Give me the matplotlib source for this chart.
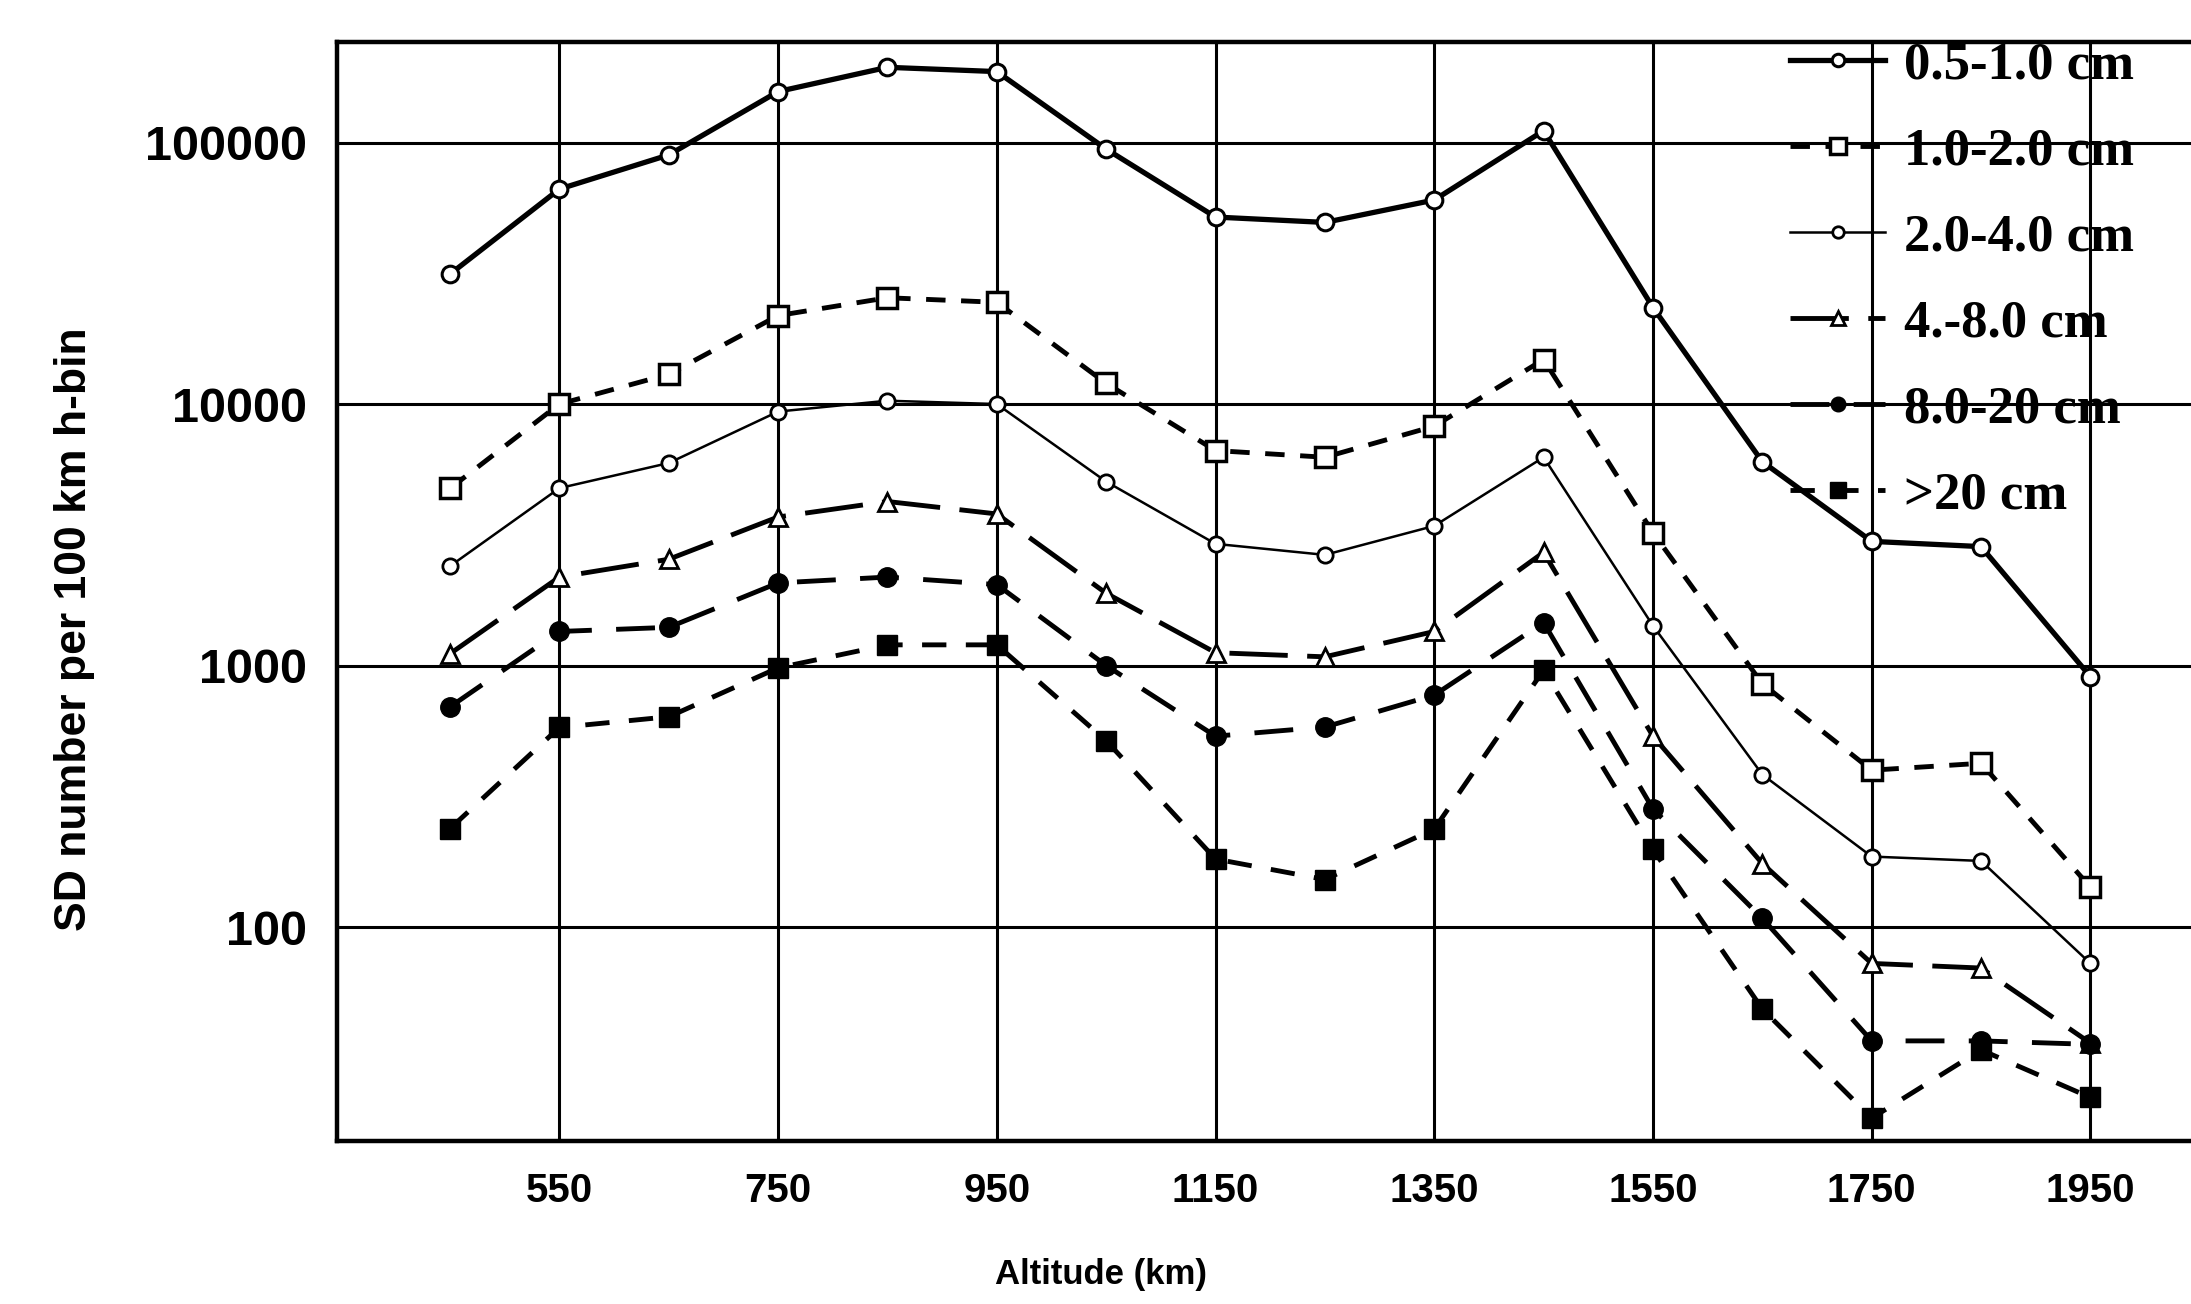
import matplotlib
matplotlib.use("Agg")
import matplotlib.pyplot as plt
from matplotlib.ticker import FixedLocator, FixedFormatter, NullLocator

altitude = [450, 550, 650, 750, 850, 950, 1050, 1150, 1250, 1350, 1450, 1550, 1650, 1750, 1850, 1950]

s_05_10 = [31400, 66400, 89700, 156700, 194000, 186800, 94400, 51900, 49500, 60300,
           111000, 23400, 6020, 2985, 2850, 907]
s_10_20 = [4760, 10000, 13000, 21800, 25500, 24500, 12000, 6640, 6260, 8230,
           14800, 3220, 852, 398, 423, 142]
s_20_40 = [2400, 4770, 5950, 9360, 10300, 10000, 5050, 2920, 2650, 3420,
           6260, 1420, 383, 186, 179, 72.6]
s_40_80 = [1110, 2180, 2550, 3700, 4240, 3800, 1890, 1120, 1080, 1350,
           2710, 537, 175, 72.6, 69.7, 36]
s_80_200 = [695, 1350, 1400, 2070, 2180, 2040, 1000, 537, 582, 771,
            1460, 283, 108, 36.7, 36.7, 35.6]
s_gt_20 = [238, 580, 637, 980, 1200, 1200, 516, 182, 152, 237,
           961, 198, 48.6, 18.6, 33.9, 22.3]

labels = ["0.5-1.0 cm", "1.0-2.0 cm", "2.0-4.0 cm", "4.-8.0 cm", "8.0-20 cm", ">20 cm"]
xticks = [550, 750, 950, 1150, 1350, 1550, 1750, 1950]
yticks = [100, 1000, 10000, 100000]

sans = "Liberation Sans"

fig = plt.figure(figsize=(21.91, 13.04), dpi=100)
ax = fig.add_axes([0.154, 0.125, 0.846, 0.843])

ax.plot(altitude, s_05_10, color="black", lw=3.8, ls="-",
        marker="o", ms=12, mfc="white", mec="black", mew=2.2, label=labels[0])
ax.plot(altitude, s_10_20, color="black", lw=3.5, ls=(0, (4.0, 3.2)),
        marker="s", ms=15, mfc="white", mec="black", mew=2.5, label=labels[1])
ax.plot(altitude, s_20_40, color="black", lw=1.8, ls="-",
        marker="o", ms=11, mfc="white", mec="black", mew=2.0, label=labels[2])
ax.plot(altitude, s_40_80, color="black", lw=3.5, ls=(0, (12, 4)),
        marker="^", ms=13, mfc="white", mec="black", mew=2.0, label=labels[3])
ax.plot(altitude, s_80_200, color="black", lw=3.5, ls=(0, (8, 5)),
        marker="o", ms=14, mfc="black", mec="black", label=labels[4])
ax.plot(altitude, s_gt_20, color="black", lw=3.5, ls=(0, (5, 4)),
        marker="s", ms=15, mfc="black", mec="black", label=labels[5])

ax.set_yscale("log")
ax.set_xlim(347, 2042)
ax.set_ylim(15.2, 243000)

ax.xaxis.set_major_locator(FixedLocator(xticks))
ax.xaxis.set_minor_locator(NullLocator())
ax.yaxis.set_major_locator(FixedLocator(yticks))
ax.yaxis.set_major_formatter(FixedFormatter([str(v) for v in yticks]))
ax.yaxis.set_minor_locator(NullLocator())
ax.tick_params(length=0)
ax.tick_params(axis="x", pad=22, labelsize=29)
ax.tick_params(axis="y", pad=22, labelsize=35)
for t in ax.get_xticklabels() + ax.get_yticklabels():
    t.set_family(sans)
    t.set_fontweight("bold")

ax.grid(True, color="black", lw=2.2)
ax.set_axisbelow(True)
for side in ["left", "top", "bottom"]:
    ax.spines[side].set_linewidth(3.2)
ax.spines["right"].set_visible(False)

ax.set_xlabel("Altitude (km)", family=sans, fontweight="bold", fontsize=25)
ax.set_ylabel("SD number per 100 km h-bin", family=sans, fontweight="bold", fontsize=32)
ax.xaxis.set_label_coords(0.412, -0.106)
ax.yaxis.set_label_coords(-0.131, 0.466)

leg = ax.legend(loc="upper left", bbox_to_anchor=(0.817, 0.968),
                bbox_transform=fig.transFigure, frameon=False,
                prop={"family": "Liberation Serif", "weight": "bold", "size": 38},
                handlelength=1.8, handletextpad=0.35, labelspacing=0.72,
                borderpad=0, borderaxespad=0, markerscale=0.75)

fig.savefig("out.png", dpi=100)
